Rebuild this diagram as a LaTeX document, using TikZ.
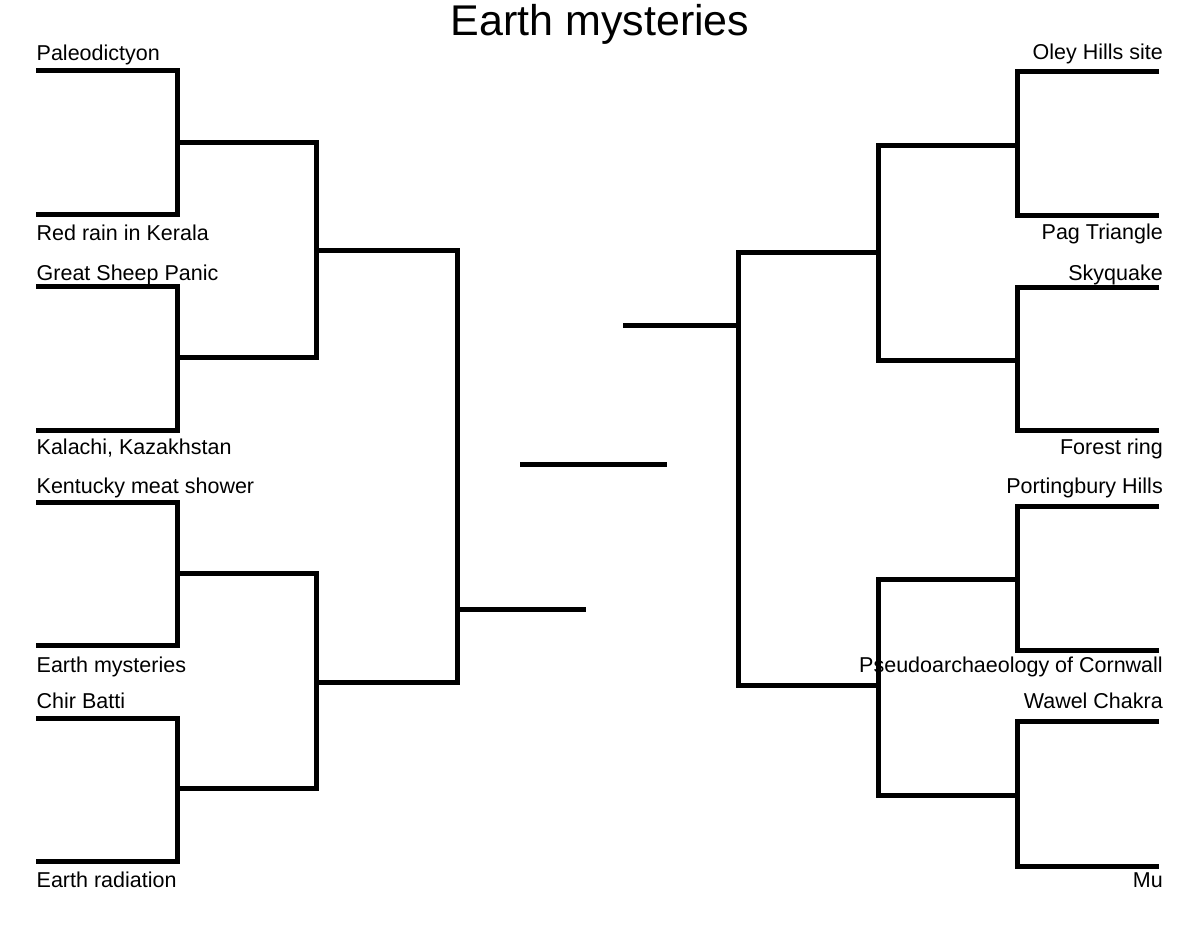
\documentclass[tikz,border=0pt]{standalone}
\usepackage{fontspec}
\setmainfont{Liberation Sans}
\begin{document}
\begin{tikzpicture}[x=1pt,y=-1pt,
  bline/.style={line width=5pt, line join=miter, line cap=butt, black},
  lab/.style={inner sep=0pt, font=\fontsize{21.5}{24}\selectfont},
  llab/.style={lab, anchor=base west},
  rlab/.style={lab, anchor=base east},
  ttl/.style={inner sep=0pt, anchor=base, font=\fontsize{43}{48}\selectfont}]
\useasboundingbox (0,0) rectangle (1200,927);
\fill[white] (0,0) rectangle (1200,927);

% title
\node[ttl] (title) at (600,35) {Earth mysteries};

% ---------- left side coordinates ----------
\coordinate (la1) at (36,70.5);   \coordinate (la1v) at (177,70.5);
\coordinate (la2) at (36,214);    \coordinate (la2v) at (177,214);
\coordinate (la3) at (36,286.5);  \coordinate (la3v) at (177,286.5);
\coordinate (la4) at (36,430);    \coordinate (la4v) at (177,430);
\coordinate (la5) at (36,502.3);  \coordinate (la5v) at (177,502.3);
\coordinate (la6) at (36,645.7);  \coordinate (la6v) at (177,645.7);
\coordinate (la7) at (36,718);    \coordinate (la7v) at (177,718);
\coordinate (la8) at (36,861.7);  \coordinate (la8v) at (177,861.7);

\coordinate (lb1) at (177,142);   \coordinate (lb1v) at (316,142);
\coordinate (lb2) at (177,357);   \coordinate (lb2v) at (316,357);
\coordinate (lb3) at (177,573);   \coordinate (lb3v) at (316,573);
\coordinate (lb4) at (177,788);   \coordinate (lb4v) at (316,788);

\coordinate (lc1) at (316,250);   \coordinate (lc1v) at (457,250);
\coordinate (lc2) at (316,682);   \coordinate (lc2v) at (457,682);

\coordinate (ld) at (457,609);    \coordinate (lde) at (586,609);

% ---------- right side coordinates ----------
\coordinate (ra1) at (1159,71.7);  \coordinate (ra1v) at (1017,71.7);
\coordinate (ra2) at (1159,215.5); \coordinate (ra2v) at (1017,215.5);
\coordinate (ra3) at (1159,287.7); \coordinate (ra3v) at (1017,287.7);
\coordinate (ra4) at (1159,430.7); \coordinate (ra4v) at (1017,430.7);
\coordinate (ra5) at (1159,506);   \coordinate (ra5v) at (1017,506);
\coordinate (ra6) at (1159,650);   \coordinate (ra6v) at (1017,650);
\coordinate (ra7) at (1159,721.7); \coordinate (ra7v) at (1017,721.7);
\coordinate (ra8) at (1159,866);   \coordinate (ra8v) at (1017,866);

\coordinate (rb1) at (1017,145.7); \coordinate (rb1v) at (878,145.7);
\coordinate (rb2) at (1017,360.7); \coordinate (rb2v) at (878,360.7);
\coordinate (rb3) at (1017,579);   \coordinate (rb3v) at (878,579);
\coordinate (rb4) at (1017,795);   \coordinate (rb4v) at (878,795);

\coordinate (rc1) at (878,252.7);  \coordinate (rc1v) at (738,252.7);
\coordinate (rc2) at (878,685);    \coordinate (rc2v) at (738,685);

\coordinate (rd) at (738,325);     \coordinate (rde) at (623,325);

\coordinate (cl) at (520,464);     \coordinate (cr) at (667,464);

% ---------- left brackets ----------
\draw[bline] (la1) -- (la1v) -- (la2v) -- (la2);
\draw[bline] (la3) -- (la3v) -- (la4v) -- (la4);
\draw[bline] (la5) -- (la5v) -- (la6v) -- (la6);
\draw[bline] (la7) -- (la7v) -- (la8v) -- (la8);
\draw[bline] (lb1) -- (lb1v) -- (lb2v) -- (lb2);
\draw[bline] (lb3) -- (lb3v) -- (lb4v) -- (lb4);
\draw[bline] (lc1) -- (lc1v) -- (lc2v) -- (lc2);
\draw[bline] (ld) -- (lde);

% ---------- right brackets ----------
\draw[bline] (ra1) -- (ra1v) -- (ra2v) -- (ra2);
\draw[bline] (ra3) -- (ra3v) -- (ra4v) -- (ra4);
\draw[bline] (ra5) -- (ra5v) -- (ra6v) -- (ra6);
\draw[bline] (ra7) -- (ra7v) -- (ra8v) -- (ra8);
\draw[bline] (rb1) -- (rb1v) -- (rb2v) -- (rb2);
\draw[bline] (rb3) -- (rb3v) -- (rb4v) -- (rb4);
\draw[bline] (rc1) -- (rc1v) -- (rc2v) -- (rc2);
\draw[bline] (rd) -- (rde);

% centre line
\draw[bline] (cl) -- (cr);

% ---------- labels ----------
\node[llab] (n1) at (36.5,60)  {Paleodictyon};
\node[llab] (n2) at (36.5,240) {Red rain in Kerala};
\node[llab] (n3) at (36.5,280) {Great Sheep Panic};
\node[llab] (n4) at (36.5,454) {Kalachi, Kazakhstan};
\node[llab] (n5) at (36.5,493) {Kentucky meat shower};
\node[llab] (n6) at (36.5,672) {Earth mysteries};
\node[llab] (n7) at (36.5,708) {Chir Batti};
\node[llab] (n8) at (36.5,887) {Earth radiation};

\node[rlab] (m1) at (1163,59.5)  {Oley Hills site};
\node[rlab] (m2) at (1163,239.5) {Pag Triangle};
\node[rlab] (m3) at (1163,280)   {Skyquake};
\node[rlab] (m4) at (1163,454)   {Forest ring};
\node[rlab] (m5) at (1163,493)   {Portingbury Hills};
\node[rlab] (m6) at (1163,672)   {Pseudoarchaeology of Cornwall};
\node[rlab] (m7) at (1163,708)   {Wawel Chakra};
\node[rlab] (m8) at (1163,887)   {Mu};
\end{tikzpicture}
\end{document}
